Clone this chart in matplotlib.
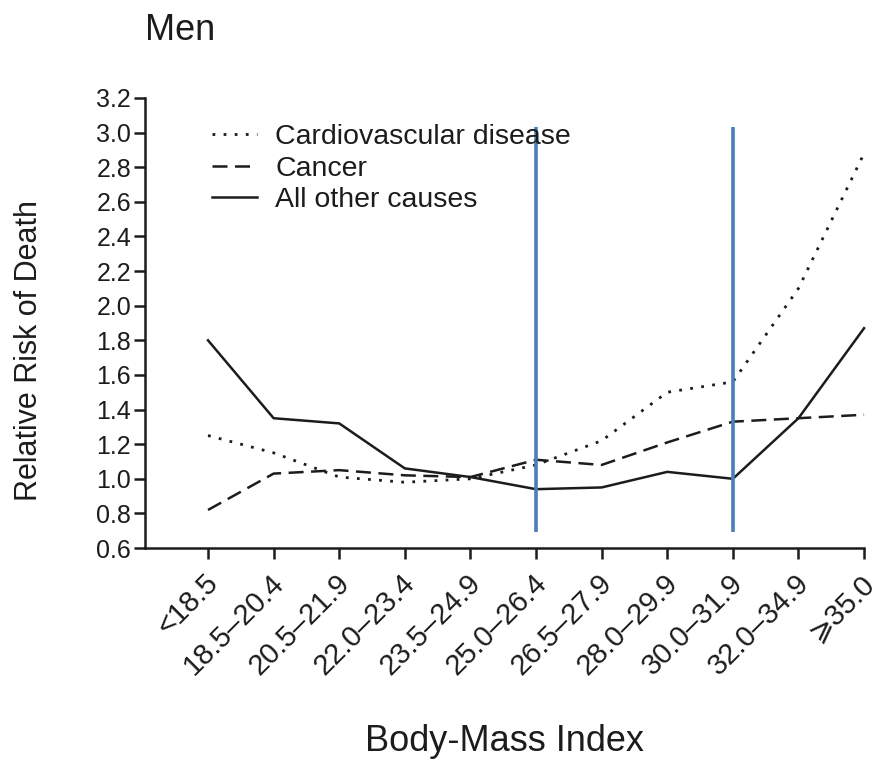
import matplotlib.pyplot as plt
import matplotlib.transforms as mtransforms

plt.rcParams['font.family'] = ['Liberation Sans', 'DejaVu Sans']

# BMI categories (x axis)
bmi_labels = ['<18.5', '18.5–20.4', '20.5–21.9', '22.0–23.4', '23.5–24.9', '25.0–26.4',
              '26.5–27.9', '28.0–29.9', '30.0–31.9', '32.0–34.9', '⩾35.0']

# relative risk of death, men
cardio = [1.25, 1.15, 1.01, 0.98, 1.00, 1.08, 1.22, 1.50, 1.56, 2.10, 2.88]
cancer = [0.82, 1.03, 1.05, 1.02, 1.01, 1.11, 1.08, 1.21, 1.33, 1.35, 1.37]
other = [1.80, 1.35, 1.32, 1.06, 1.01, 0.94, 0.95, 1.04, 1.00, 1.35, 1.87]

# blue marker lines drawn over the chart (category index, bottom, top)
marker_idx = [5, 8]
marker_lo = 0.69
marker_hi = 3.03

y_ticks = [0.6, 0.8, 1.0, 1.2, 1.4, 1.6, 1.8, 2.0, 2.2, 2.4, 2.6, 2.8, 3.0, 3.2]

ink = '#1c1c1c'
x = list(range(len(bmi_labels)))

fig = plt.figure(figsize=(8.79, 7.62), dpi=100)
ax = fig.add_axes([0.165, 0.2808, 0.818, 0.5906])

ax.plot(x, cardio, color=ink, lw=2, linestyle=(0, (1, 3)), label='Cardiovascular disease', clip_on=False)
ax.plot(x, cancer, color=ink, lw=1.8, linestyle=(0, (6, 3)), label='Cancer', clip_on=False)
ax.plot(x, other, color=ink, lw=1.8, label='All other causes', clip_on=False)

ax.vlines(marker_idx, marker_lo, marker_hi, colors='#4a7ebb', lw=2.6, zorder=5)

ax.set_xlim(-0.96, 10)
ax.set_ylim(0.6, 3.2)
ax.set_yticks(y_ticks)
ax.set_yticklabels([f'{v:.1f}' for v in y_ticks])
ax.set_xticks(x)
ax.set_xticklabels(bmi_labels, rotation=45, ha='right', va='center', rotation_mode='anchor')

for s in ['top', 'right']:
    ax.spines[s].set_visible(False)
for s in ['left', 'bottom']:
    ax.spines[s].set_linewidth(1.8)
    ax.spines[s].set_color(ink)
ax.tick_params(axis='both', length=8, width=1.8, color=ink, labelcolor=ink, labelsize=18)
ax.tick_params(axis='x', pad=14, labelsize=21)
ax.tick_params(axis='y', pad=2)

# nudge rotated labels to the right like the original
shift = mtransforms.ScaledTranslation(0.06, 0, fig.dpi_scale_trans)
for lab in ax.get_xticklabels():
    lab.set_transform(lab.get_transform() + shift)

ax.set_ylabel('Relative Risk of Death', fontsize=22, color=ink)
ax.yaxis.set_label_coords(-0.14, 0.44)
ax.set_xlabel('Body-Mass Index', fontsize=26, color=ink)
ax.xaxis.set_label_coords(0.5, -0.39)

fig.text(0.165, 0.947, 'Men', fontsize=26, color=ink)

ax.legend(loc='upper left', bbox_to_anchor=(0.057, 0.999), frameon=False, fontsize=20.5,
          handlelength=1.6, handletextpad=0.63, labelspacing=0.2, labelcolor=ink)

fig.savefig('out.png', dpi=100)
